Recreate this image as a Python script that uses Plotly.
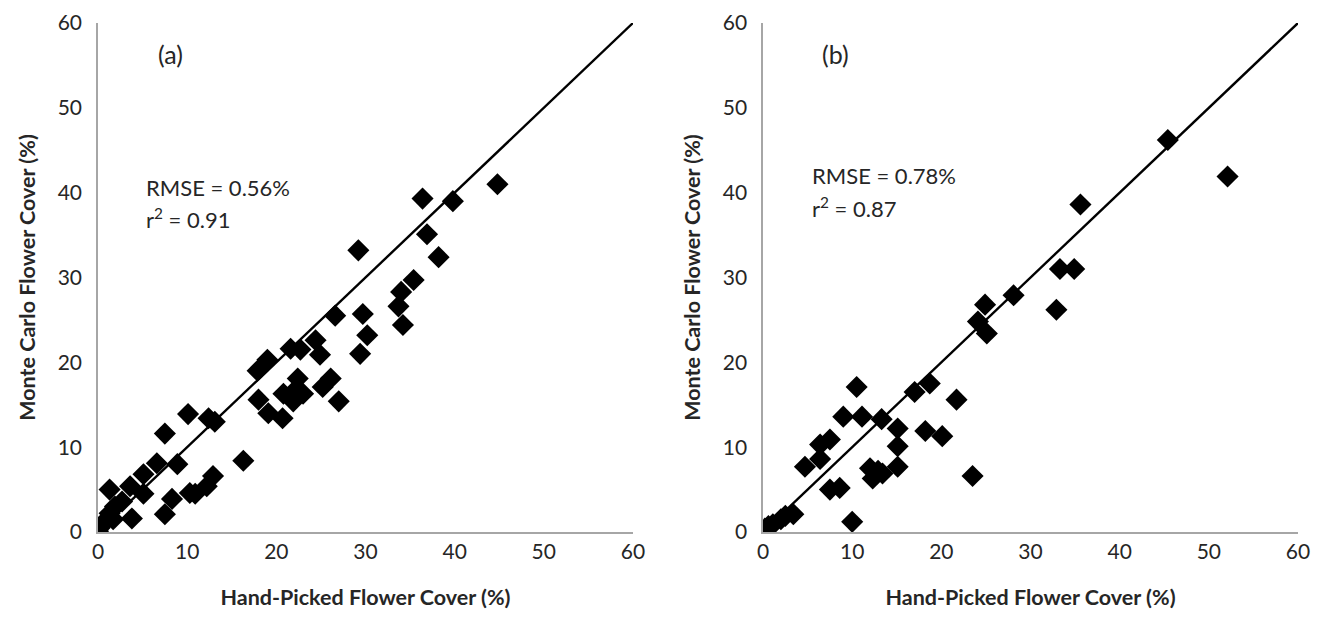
import plotly.graph_objects as go
from plotly.subplots import make_subplots

# Panel (a) data
a_hand = [0, 0.2, 0.8, 1.3, 1.7, 1.9, 2.7, 3.8, 1.3, 3.6, 5.1, 5.1, 6.6, 8.9, 8.3, 7.5,
          10.3, 10.9, 12.2, 12.9, 16.3, 7.5, 10.1, 12.4, 13.1, 18.0, 19.1, 20.7, 20.8,
          21.9, 23.0, 21.9, 22.4, 26.1, 25.2, 27.0, 17.9, 19.0, 21.6, 22.7, 24.4, 24.9,
          26.6, 29.2, 29.7, 30.2, 29.4, 34.0, 33.7, 34.2, 35.4, 36.4, 36.9, 38.2, 39.8, 44.8]
a_mc = [0.1, 0.5, 1.3, 2.2, 1.5, 3.0, 3.6, 1.6, 5.0, 5.4, 4.5, 6.8, 8.1, 8.0, 3.9, 2.1,
        4.6, 4.5, 5.4, 6.6, 8.4, 11.6, 13.9, 13.4, 13.0, 15.6, 14.0, 13.4, 16.3,
        16.5, 16.3, 15.4, 18.1, 18.1, 17.1, 15.4, 19.0, 20.3, 21.6, 21.5, 22.6, 20.9,
        25.5, 33.2, 25.7, 23.2, 21.0, 28.3, 26.6, 24.4, 29.7, 39.3, 35.1, 32.4, 39.0, 41.0]

# Panel (b) data
b_hand = [0, 0.2, 0.6, 1.1, 2.0, 2.5, 3.4, 10.0, 7.5, 8.6, 4.7, 6.4, 6.4, 7.5, 9.0, 10.5,
          11.1, 13.3, 15.1, 15.1, 15.1, 12.0, 12.9, 12.3, 13.4, 17.0, 18.7, 18.2, 20.1,
          21.7, 23.5, 24.1, 24.9, 25.1, 28.1, 32.9, 33.3, 34.9, 35.6, 45.4, 52.1]
b_mc = [0.1, 0.4, 0.7, 0.9, 1.5, 1.9, 2.1, 1.2, 5.0, 5.2, 7.7, 8.6, 10.3, 10.9, 13.6, 17.1,
        13.6, 13.3, 12.2, 10.1, 7.7, 7.5, 7.2, 6.3, 6.9, 16.5, 17.5, 11.9, 11.3,
        15.6, 6.6, 24.8, 26.8, 23.4, 27.9, 26.2, 31.0, 31.0, 38.6, 46.2, 41.9]

one_to_one = [0, 60]
tick_vals = [0, 10, 20, 30, 40, 50, 60]

FONT = "Lato"
TXT = "#262626"
fig = make_subplots(rows=1, cols=2, horizontal_spacing=0.1084)

for col, (xs, ys) in enumerate([(a_hand, a_mc), (b_hand, b_mc)], start=1):
    fig.add_trace(go.Scatter(x=one_to_one, y=one_to_one, mode="lines",
                             line=dict(color="black", width=2.4), showlegend=False,
                             hoverinfo="skip"), row=1, col=col)
    fig.add_trace(go.Scatter(x=xs, y=ys, mode="markers",
                             marker=dict(symbol="diamond", size=17, color="black"),
                             showlegend=False), row=1, col=col)

axis_common = dict(range=[0, 60], tickvals=tick_vals, showgrid=False, zeroline=False,
                   showline=True, linecolor="#a6a6a6", linewidth=1.5, ticks="",
                   tickfont=dict(family=FONT, size=21, color=TXT),
                   ticklabeloverflow="allow",
                   automargin=False, fixedrange=True)

for col in (1, 2):
    fig.update_xaxes(**axis_common, ticklabelstandoff=0,
                     title=dict(text="<b>Hand-Picked Flower Cover (%)</b>",
                                font=dict(family=FONT, size=21.5, color=TXT),
                                standoff=28),
                     row=1, col=col)
    fig.update_yaxes(**axis_common, ticklabelstandoff=10,
                     title=dict(text="<b>Monte Carlo Flower Cover (%)</b>",
                                font=dict(family=FONT, size=21.5, color=TXT),
                                standoff=16),
                     row=1, col=col)

fig.update_xaxes(domain=[0, 0.4458], row=1, col=1)
fig.update_xaxes(domain=[0.5542, 1], row=1, col=2)

ann_font = dict(family=FONT, size=22, color=TXT)
lab_font = dict(family=FONT, size=25, color=TXT)
annotations = [
    dict(x=8.1, y=56.3, xref="x", yref="y", text="(a)", showarrow=False, font=lab_font),
    dict(x=5.2, y=40.6, xref="x", yref="y", text="RMSE = 0.56%", showarrow=False,
         font=ann_font, xanchor="left"),
    dict(x=5.2, y=37.0, xref="x", yref="y", text="r<sup>2</sup> = 0.91", showarrow=False,
         font=ann_font, xanchor="left"),
    dict(x=8.1, y=56.3, xref="x2", yref="y2", text="(b)", showarrow=False, font=lab_font),
    dict(x=5.3, y=42.0, xref="x2", yref="y2", text="RMSE = 0.78%", showarrow=False,
         font=ann_font, xanchor="left"),
    dict(x=5.3, y=38.2, xref="x2", yref="y2", text="r<sup>2</sup> = 0.87", showarrow=False,
         font=ann_font, xanchor="left"),
]

# the page body adds an 8px offset, so the margins are shifted to compensate
fig.update_layout(width=1327, height=630, paper_bgcolor="white", plot_bgcolor="white",
                  margin=dict(l=90, r=37, t=15, b=106, autoexpand=False),
                  annotations=annotations, font=dict(family=FONT))

fig.write_html("out.html")
